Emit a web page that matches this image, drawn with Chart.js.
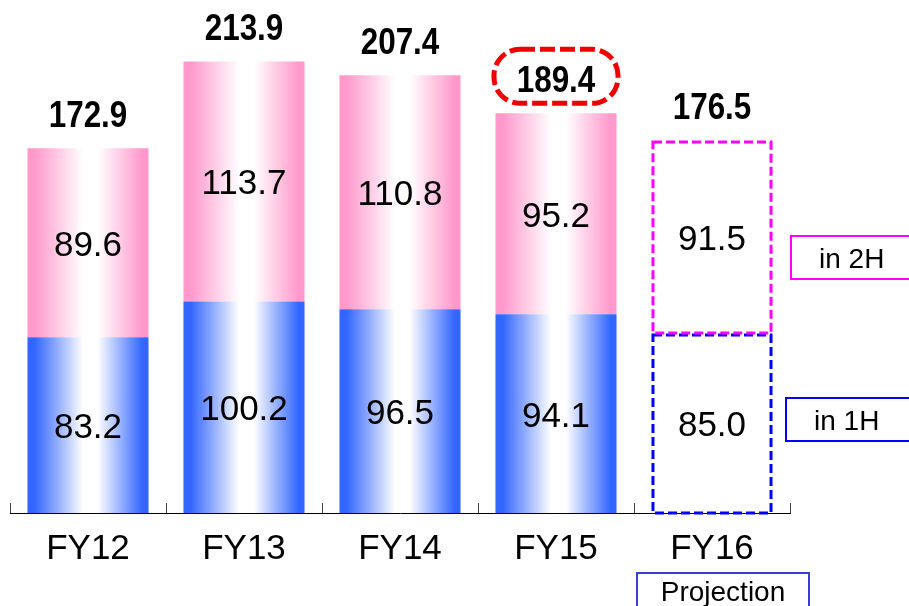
<!DOCTYPE html>
<html>
<head>
<meta charset="utf-8">
<script src="https://cdn.jsdelivr.net/npm/chart.js@4.4.0/dist/chart.umd.min.js"></script>
<style>
  html, body { margin: 0; padding: 0; background: #fff; }
  #wrap { width: 909px; height: 606px; position: relative; }
</style>
</head>
<body>
<div id="wrap"><canvas id="chart"></canvas></div>
<script>
// Data
const categories = ['FY12', 'FY13', 'FY14', 'FY15', 'FY16'];
const firstHalf = [83.2, 100.2, 96.5, 94.1, 85.0];
const secondHalf = [89.6, 113.7, 110.8, 95.2, 91.5];
const totals = [172.9, 213.9, 207.4, 189.4, 176.5];
const projectionIndex = 4;   // FY16 drawn as dashed outline
const highlightIndex = 3;    // FY15 total circled in red

const BAR_PCT = 0.776;
const FONT = "'Liberation Sans', Arial, sans-serif";

// horizontal "cylinder" gradient per bar
function barGradient(context, edge) {
    const chart = context.chart;
    const xs = chart.scales.x;
    if (context.dataIndex === projectionIndex) return '#ffffff';
    if (!xs || !chart.chartArea || context.dataIndex === undefined) return edge;
    const cx = xs.getPixelForValue(context.dataIndex);
    const half = xs.width / categories.length * BAR_PCT / 2;
    const g = chart.ctx.createLinearGradient(cx - half, 0, cx + half, 0);
    g.addColorStop(0, edge);
    g.addColorStop(0.06, edge);
    g.addColorStop(0.46, '#ffffff');
    g.addColorStop(0.58, '#ffffff');
    g.addColorStop(0.95, edge);
    g.addColorStop(1, edge);
    return g;
}

const decorations = {
    id: 'decorations',
    afterDraw(chart) {
        const ctx = chart.ctx;
        const xs = chart.scales.x;
        const area = chart.chartArea;
        const low = chart.getDatasetMeta(0).data;
        const high = chart.getDatasetMeta(1).data;
        const step = xs.width / categories.length;

        ctx.save();

        // small tick marks at category boundaries, pointing up
        ctx.strokeStyle = '#444';
        ctx.lineWidth = 1;
        for (let i = 0; i <= categories.length; i++) {
            const x = Math.round(area.left + i * step) + 0.5;
            ctx.beginPath();
            ctx.moveTo(x, area.bottom);
            ctx.lineTo(x, area.bottom - 10);
            ctx.stroke();
        }

        // dashed outline for projection bar
        const p1 = low[projectionIndex], p2 = high[projectionIndex];
        ctx.lineWidth = 3;
        ctx.setLineDash([9, 4]);
        ctx.strokeStyle = '#0000ff';
        ctx.strokeRect(p1.x - p1.width / 2 + 1.5, p1.y + 1.5, p1.width - 3, p1.base - p1.y - 1.5);
        ctx.strokeStyle = '#ff00ff';
        ctx.strokeRect(p2.x - p2.width / 2 + 1.5, p2.y + 1.5, p2.width - 3, p2.base - p2.y - 2);
        ctx.setLineDash([]);

        // values inside segments
        ctx.fillStyle = '#000';
        ctx.textAlign = 'center';
        ctx.textBaseline = 'alphabetic';
        ctx.font = '35px ' + FONT;
        [[low, firstHalf], [high, secondHalf]].forEach(([els, vals]) => {
            els.forEach((el, i) => {
                const mid = (el.y + el.base) / 2;
                ctx.fillText(vals[i].toFixed(1), el.x, mid + 13);
            });
        });

        // totals above bars (bold, slightly condensed)
        ctx.font = 'bold 37px ' + FONT;
        high.forEach((el, i) => {
            ctx.save();
            ctx.translate(el.x, el.y - 21);
            ctx.scale(0.85, 1);
            ctx.fillText(totals[i].toFixed(1), 0, 0);
            ctx.restore();
        });

        // red dashed pill around highlighted total
        const h = high[highlightIndex];
        const pw = 124, ph = 54, cy = h.y - 37;
        ctx.strokeStyle = '#ee0000';
        ctx.lineWidth = 5;
        ctx.setLineDash([15, 5]);
        ctx.beginPath();
        ctx.roundRect(h.x - pw / 2, cy - ph / 2, pw, ph, 26);
        ctx.stroke();
        ctx.setLineDash([]);

        // side legend boxes
        ctx.lineWidth = 2;
        ctx.textAlign = 'left';
        ctx.font = '28px ' + FONT;
        [
            { text: 'in 2H', color: '#ff00ff', x: 791, y: 236 },
            { text: 'in 1H', color: '#0000ff', x: 786, y: 398 }
        ].forEach(b => {
            ctx.strokeStyle = b.color;
            ctx.strokeRect(b.x, b.y, 160, 43);
            ctx.fillStyle = '#000';
            ctx.fillText(b.text, b.x + 28, b.y + 32);
        });

        // "Projection" box under FY16
        const px = xs.getPixelForValue(projectionIndex) + 11;
        ctx.strokeStyle = '#3c3cd8';
        ctx.lineWidth = 2;
        ctx.strokeRect(px - 86, 573, 172, 50);
        ctx.textAlign = 'center';
        ctx.font = '28px ' + FONT;
        ctx.fillText('Projection', px, 601);

        ctx.restore();
    }
};

new Chart(document.getElementById('chart'), {
    type: 'bar',
    data: {
        labels: categories,
        datasets: [
            {
                label: 'in 1H',
                data: firstHalf,
                backgroundColor: c => barGradient(c, '#3366ff'),
                borderWidth: 0,
                barPercentage: BAR_PCT,
                categoryPercentage: 1
            },
            {
                label: 'in 2H',
                data: secondHalf,
                backgroundColor: c => barGradient(c, '#ff99cc'),
                borderWidth: 0,
                barPercentage: BAR_PCT,
                categoryPercentage: 1
            }
        ]
    },
    options: {
        responsive: true,
        maintainAspectRatio: false,
        animation: false,
        layout: { padding: { left: 10, right: 119, top: 0, bottom: 0 } },
        plugins: {
            legend: { display: false },
            tooltip: { enabled: false }
        },
        scales: {
            x: {
                stacked: true,
                grid: { display: false },
                border: { display: true, color: '#000', width: 1 },
                ticks: {
                    color: '#000',
                    padding: 7,
                    font: { family: FONT, size: 35 }
                },
                afterFit: s => { s.height = 93; }
            },
            y: {
                stacked: true,
                display: false,
                min: 0,
                max: 243
            }
        }
    },
    plugins: [decorations]
});
</script>
</body>
</html>
